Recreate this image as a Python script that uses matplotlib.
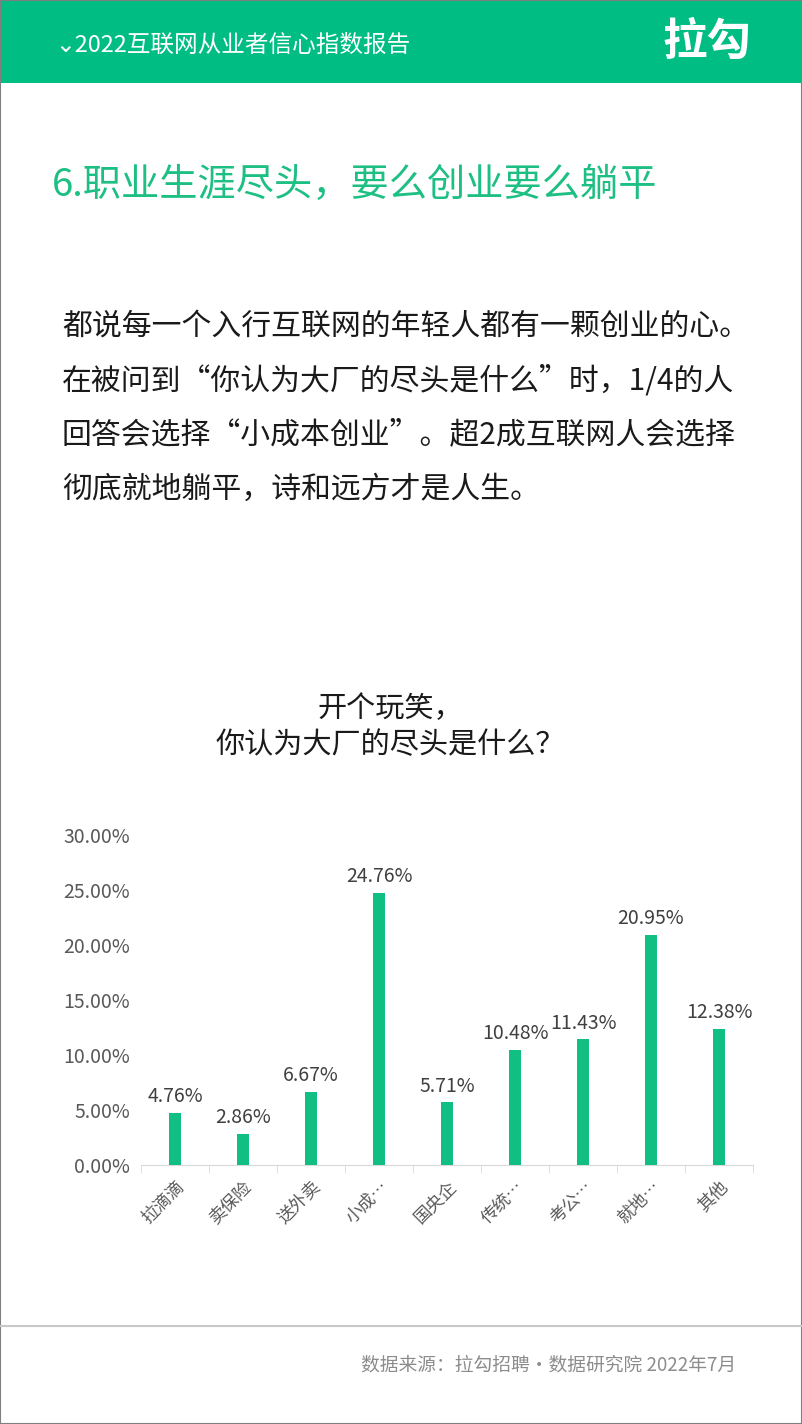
import matplotlib.pyplot as plt
from matplotlib.patches import Rectangle
from matplotlib.lines import Line2D
from matplotlib.ticker import FuncFormatter, MultipleLocator

plt.rcParams['font.family'] = ['Noto Sans CJK SC', 'DejaVu Sans']

# data
categories = ['拉滴滴', '卖保险', '送外卖', '小成…', '国央企', '传统…', '考公…', '就地…', '其他']
values = [4.76, 2.86, 6.67, 24.76, 5.71, 10.48, 11.43, 20.95, 12.38]

header_text = '⌄2022互联网从业者信心指数报告'
logo_text = '拉勾'
title_text = '6.职业生涯尽头，要么创业要么躺平'
paragraph = ['都说每一个入行互联网的年轻人都有一颗创业的心。',
             '在被问到“你认为大厂的尽头是什么”时，1/4的人',
             '回答会选择“小成本创业”。超2成互联网人会选择',
             '彻底就地躺平，诗和远方才是人生。']
chart_title = '开个玩笑，\n你认为大厂的尽头是什么？'
source_text = '数据来源：拉勾招聘·数据研究院 2022年7月'

green = '#12BF83'
W, H = 802, 1424

fig = plt.figure(figsize=(W / 100, H / 100), dpi=100)

def fy(y):
    # pixel row from top -> figure fraction
    return 1 - y / H

# header band
fig.patches.append(Rectangle((0, fy(83)), 1, 83 / H, transform=fig.transFigure,
                             facecolor='#00BD84', edgecolor='none'))
fig.text(55 / W, fy(45), header_text, color='white', fontsize=17, va='center', ha='left')
fig.text(752 / W, fy(42), logo_text, color='white', fontsize=32, fontweight='bold',
         va='center', ha='right')

# page border
fig.patches.append(Rectangle((0, 0), 1, 1, transform=fig.transFigure, facecolor='none',
                             edgecolor='#7f7f7f', linewidth=1.5))

# title
fig.text(52 / W, fy(185), title_text, color='#1DBF83', fontsize=27.5, va='center', ha='left')

# paragraph
for i, line in enumerate(paragraph):
    fig.text(62 / W, fy(326 + i * 54.5), line, color='#1a1a1a', fontsize=21.5,
             va='center', ha='left')

# chart title
fig.text(390 / W, fy(727), chart_title, color='#1a1a1a', fontsize=21, va='center',
         ha='center', multialignment='center', linespacing=1.25)

# chart
ax = fig.add_axes([141 / W, fy(1165), 612 / W, 330 / H])
x = range(len(categories))
bars = ax.bar(x, values, width=0.18, color=green, zorder=3)
for xi, v in zip(x, values):
    ax.text(xi, v + 0.5, f'{v:.2f}%', ha='center', va='bottom', fontsize=14, color='#404040')

ax.set_xlim(-0.5, len(categories) - 0.5)
ax.set_ylim(0, 30)
ax.yaxis.set_major_locator(MultipleLocator(5))
ax.yaxis.set_major_formatter(FuncFormatter(lambda v, p: f'{v:.2f}%'))
ax.tick_params(axis='y', length=0, labelsize=14, labelcolor='#595959', pad=8)
for s in ['top', 'right', 'left']:
    ax.spines[s].set_visible(False)
ax.spines['bottom'].set_color('#d9d9d9')

ax.set_xticks(list(x))
ax.set_xticklabels(categories, rotation=45, ha='right', rotation_mode='anchor',
                   fontsize=12.5, color='#595959')
ax.tick_params(axis='x', length=0, pad=9)
ax.set_xticks([i - 0.5 for i in range(len(categories) + 1)], minor=True)
ax.tick_params(axis='x', which='minor', length=6, color='#d9d9d9')

# footer
fig.lines.append(Line2D([0, 1], [fy(1326), fy(1326)], transform=fig.transFigure,
                        color='#c8c8c8', linewidth=1.5))
fig.text(736 / W, fy(1365), source_text, color='#8c8c8c', fontsize=13.5, va='center', ha='right')

fig.savefig('out.png', dpi=100)
